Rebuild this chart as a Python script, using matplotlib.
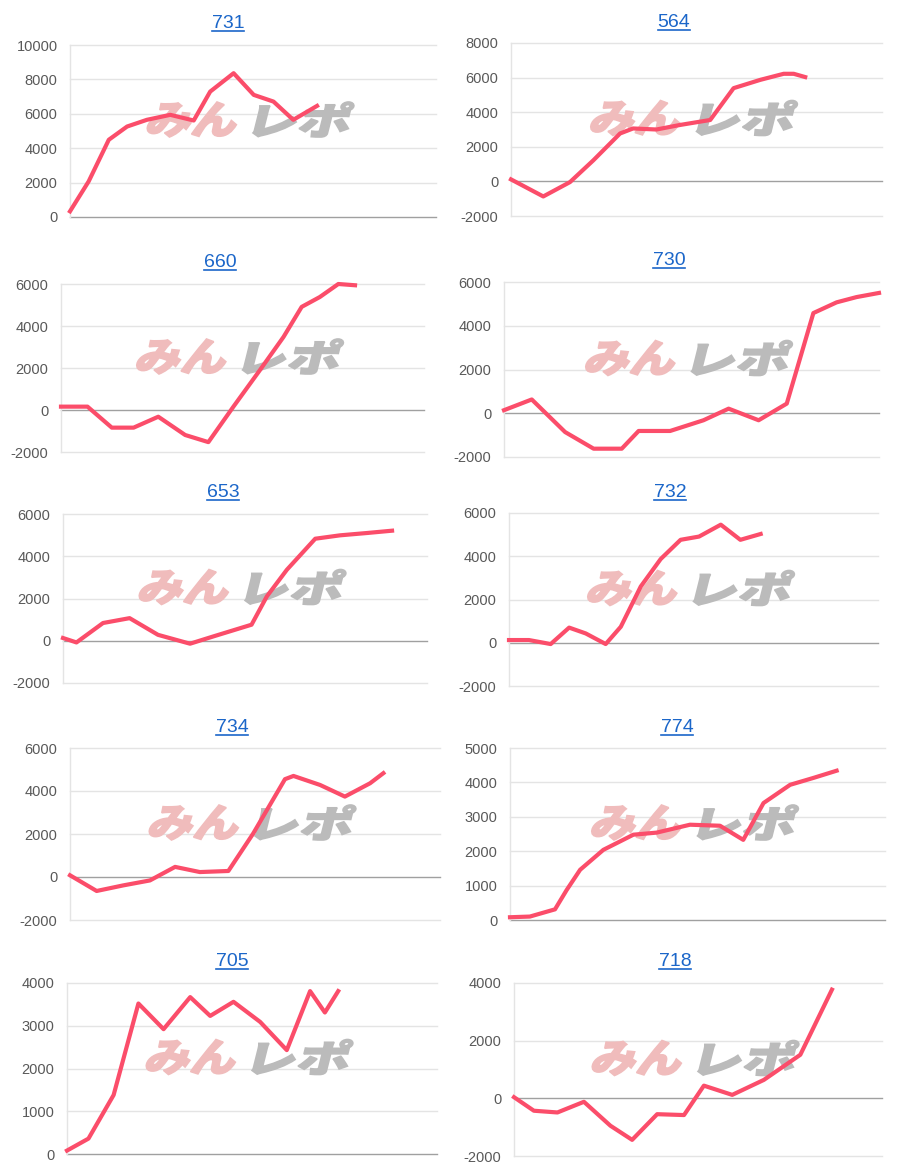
import matplotlib
matplotlib.use("Agg")
import numpy as np
import matplotlib.pyplot as plt
from matplotlib.textpath import TextPath
from matplotlib.font_manager import FontProperties
from matplotlib.patches import PathPatch
from matplotlib.transforms import Affine2D, IdentityTransform
from matplotlib.lines import Line2D

W, H = 897, 1173

# --- data (x = position along the axis, 0..1) ---
titles = ["731", "564", "660", "730", "653", "732", "734", "774", "705", "718"]

x731 = [0, 0.051, 0.106, 0.156, 0.210, 0.274, 0.338, 0.383, 0.447, 0.502, 0.556, 0.610, 0.675]
y731 = [330, 2070, 4490, 5260, 5650, 5940, 5610, 7290, 8360, 7100, 6710, 5650, 6460]

x564 = [0, 0.087, 0.159, 0.222, 0.294, 0.329, 0.392, 0.455, 0.537, 0.600, 0.672, 0.735, 0.762, 0.793]
y564 = [116, -870, -40, 1220, 2770, 3060, 3000, 3260, 3550, 5390, 5870, 6220, 6220, 6030]

x660 = [0, 0.073, 0.140, 0.200, 0.268, 0.342, 0.406, 0.475, 0.548, 0.613, 0.663, 0.713, 0.764, 0.810]
y660 = [160, 160, -840, -840, -320, -1190, -1530, 160, 1900, 3480, 4910, 5380, 6000, 5940]

x730 = [0, 0.074, 0.163, 0.239, 0.314, 0.359, 0.443, 0.532, 0.599, 0.679, 0.754, 0.825, 0.887, 0.940, 1.0]
y730 = [140, 630, -860, -1620, -1620, -810, -810, -320, 210, -320, 440, 4580, 5070, 5310, 5500]

x653 = [0, 0.037, 0.110, 0.183, 0.261, 0.349, 0.413, 0.518, 0.560, 0.615, 0.693, 0.761, 0.835, 0.904]
y653 = [130, -80, 840, 1070, 280, -140, 205, 760, 2100, 3360, 4830, 4990, 5100, 5210]

x732 = [0, 0.054, 0.113, 0.163, 0.208, 0.262, 0.303, 0.357, 0.411, 0.465, 0.515, 0.574, 0.627, 0.682]
y732 = [125, 125, -60, 700, 430, -60, 740, 2600, 3870, 4760, 4910, 5460, 4760, 5030]

x734 = [0, 0.072, 0.144, 0.216, 0.284, 0.351, 0.428, 0.495, 0.581, 0.604, 0.676, 0.743, 0.811, 0.847]
y734 = [80, -650, -390, -160, 470, 230, 280, 2020, 4550, 4700, 4280, 3740, 4360, 4830]

x774 = [0, 0.053, 0.120, 0.151, 0.187, 0.249, 0.329, 0.391, 0.480, 0.560, 0.622, 0.676, 0.747, 0.809, 0.871]
y774 = [80, 100, 310, 870, 1460, 2040, 2480, 2540, 2770, 2740, 2330, 3400, 3930, 4130, 4340]

x705 = [0, 0.058, 0.126, 0.193, 0.261, 0.333, 0.387, 0.450, 0.522, 0.594, 0.657, 0.697, 0.733]
y705 = [80, 360, 1380, 3520, 2920, 3670, 3230, 3560, 3090, 2430, 3810, 3310, 3810]

x718 = [0, 0.054, 0.118, 0.190, 0.262, 0.321, 0.389, 0.462, 0.516, 0.593, 0.679, 0.778, 0.864]
y718 = [40, -430, -490, -120, -950, -1440, -550, -580, 440, 120, 640, 1510, 3770]

series = [(x731, y731), (x564, y564), (x660, y660), (x730, y730), (x653, y653),
          (x732, y732), (x734, y734), (x774, y774), (x705, y705), (x718, y718)]

yticks = [
    [0, 2000, 4000, 6000, 8000, 10000],
    [-2000, 0, 2000, 4000, 6000, 8000],
    [-2000, 0, 2000, 4000, 6000],
    [-2000, 0, 2000, 4000, 6000],
    [-2000, 0, 2000, 4000, 6000],
    [-2000, 0, 2000, 4000, 6000],
    [-2000, 0, 2000, 4000, 6000],
    [0, 1000, 2000, 3000, 4000, 5000],
    [0, 1000, 2000, 3000, 4000],
    [-2000, 0, 2000, 4000],
]

# plot boxes in pixels: left, right, top, bottom
boxes = [
    (70, 436, 45, 217), (511, 882, 43, 216),
    (61, 424, 284, 452), (504, 879, 282, 457),
    (63, 427, 514, 683), (509, 878, 513, 686),
    (70, 440, 748, 920), (510, 885, 748, 920),
    (67, 437, 983, 1154), (514, 882, 983, 1156),
]
# title centre x, baseline y (pixels)
title_pos = [(228, 28), (674, 27), (220, 267), (669, 265), (223, 497),
             (670, 497), (232, 732), (677, 732), (232, 966), (675, 966)]

LINE = "#fb4d6a"
TITLE = "#1b66c9"

fig = plt.figure(figsize=(W / 100, H / 100), dpi=100)
fig.patch.set_facecolor("white")
logo_font = FontProperties(family="Noto Sans CJK JP", weight="black")
SKEW = 14


def add_logo(ax, cx, cy):
    # watermark "みんレポ": heavy, stretched and slanted like the site logo
    parts = (("みん", "#f0bcbc", -59.5, 97), ("レポ", "#bbbbbb", 50.5, 103))
    h = 35
    for txt, col, dx, w in parts:
        tp = TextPath((0, 0), txt, size=40, prop=logo_font)
        ext = tp.get_extents()
        sx = (w - np.tan(np.radians(SKEW)) * h) / ext.width
        sy = h / ext.height
        tr = (Affine2D().translate(-(ext.x0 + ext.x1) / 2, -(ext.y0 + ext.y1) / 2)
              .scale(sx, sy).skew_deg(SKEW, 0).translate(cx + dx, cy))
        p = PathPatch(tr.transform_path(tp), fc=col, ec=col, lw=1.2,
                      transform=IdentityTransform(), zorder=1)
        ax.add_artist(p)


renderer = fig.canvas.get_renderer()
for i, (xs, ys) in enumerate(series):
    l, r, t, b = boxes[i]
    ax = fig.add_axes([l / W, 1 - b / H, (r - l) / W, (b - t) / H])
    ticks = yticks[i]
    ax.set_xlim(0, 1)
    ax.set_ylim(ticks[0], ticks[-1])
    ax.set_yticks(ticks)
    ax.set_yticklabels([str(v) for v in ticks])
    ax.set_xticks([])
    for s in ax.spines.values():
        s.set_visible(False)
    ax.tick_params(axis="y", length=0, pad=9, labelsize=10.5, labelcolor="#595959")
    for lab in ax.get_yticklabels():
        lab.set_fontfamily("Liberation Sans")
    for v in ticks:
        ax.axhline(v, color="#a0a0a0" if v == 0 else "#e4e4e4", lw=1,
                   zorder=0.5, clip_on=False)
    ax.axvline(0, color="#e4e4e4", lw=1, zorder=0.5, clip_on=False)
    add_logo(ax, (l + r) / 2, H - ((t + b) / 2 - 11.5))
    ax.plot(xs, ys, color=LINE, lw=3.0, solid_joinstyle="round", zorder=3, clip_on=False)

    tx, ty = title_pos[i]
    txt = fig.text(tx / W, 1 - ty / H, titles[i], ha="center", va="baseline",
                   fontsize=14, color=TITLE, family="Liberation Sans")
    bb = txt.get_window_extent(renderer)
    y_ul = (H - ty - 3) / H
    fig.add_artist(Line2D([bb.x0 / W, bb.x1 / W], [y_ul, y_ul], color=TITLE, lw=1.2))

fig.savefig("out.png", dpi=100, facecolor="white")
